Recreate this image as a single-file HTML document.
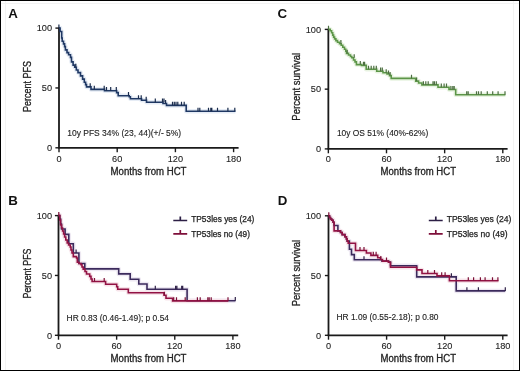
<!DOCTYPE html>
<html><head><meta charset="utf-8"><style>
html,body{margin:0;padding:0;background:#fff;}
body{width:520px;height:371px;overflow:hidden;}
svg{display:block;font-family:"Liberation Sans", sans-serif;will-change:transform;}
</style></head><body>
<svg width="520" height="371" viewBox="0 0 520 371">
<rect x="0" y="0" width="520" height="371" fill="#fff"/>
<path d="M1,3.5H519M5.5,1V370M513.5,1V370" stroke="#f3f3f3" stroke-width="1" fill="none"/>
<rect x="0.5" y="0.5" width="519" height="370" fill="none" stroke="#000" stroke-width="1"/>
<path d="M59.0,28.1H60.1V31.5H61.7V38H62.2V41.2H63.5V43.9H64.6V46.6H65.4V49.9H67V52.6H68.6V54.7H70.5V57.4H71.5V61.9H73.1V65.1H74.7V67.3H76.3V70H78V72.6H80.5V75.9H82.6V79.1H84.3V82.3H85.6V84.6H86.5V86.9H91.0V89.4H104.5V90.7H116.6V92.6H118.2V95.7H129.2V96.8H130.4V98.8H141.5V100.3H146.5V102.2H163V103.5H166.5V105.4H186.2V111.3H235.5" stroke="#e6ecf5" stroke-width="4.5" fill="none" stroke-linejoin="round"/>
<path d="M328.35,29.4H330.2V30.8H331.6V32.8H332.7V35.1H333.6V37.1H334.6V38.9H335.9V40.6H337.5V42.2H339.5V43.7H341.2V45.3H342.8V47.3H344.5V49.3H345.8V51.3H346.5V53.4H348.5V55H350.5V56.5H351.8V57.8H353.5V60H355V61.9H356.4V64.6H361.5V65.4H366.2V69.3H376.7V71.2H383V72.8H387V74H389.5V75.6H391.2V78.4H415.7V81.1H418.6V83H421.9V84.9H438V87.2H449V89.5H455.7V94.8H505.4" stroke="#e8f3e1" stroke-width="4.5" fill="none" stroke-linejoin="round"/>
<path d="M58.4,215.6H59.8V219H60.6V224H61.5V229H65.1V234.4H68.8V243.7H73.3V253H78.9V263.5H84.8V268.9H118.7V273.9H130.2V279.2H138.8V284H147V289.3H187.1V300.7H235.5" stroke="#ede8f2" stroke-width="4.5" fill="none" stroke-linejoin="round"/>
<path d="M58.4,215.6H59.8V220H60.6V225H61.6V228H62.6V231H63.6V234H64.6V237H65.8V240H67.2V243H68.6V245H70.2V247H71V250H72V253H73.3V256.6H76.5V258H77.3V262.3H79V263.5H81V264.7H82V267H83.2V269.1H85V271.5H86.5V274H89.7V276.4H91V279H92.1V281.5H105.6V284.2H116.7V286.7H117.7V289.2H128.3V292.7H164V295.3H166V298.2H172.6V300.9H228.3" stroke="#f7e4ea" stroke-width="4.5" fill="none" stroke-linejoin="round"/>
<path d="M328.5,215.8H329.5V217.5H330.5V219H331.7V220.3H333.1V222.2H334.1V225.5H337.9V230.9H340.5V232.5H342.2V234.6H344.9V236.8H346.4V239H347.2V241.1H349.4V243.3H349.4V249.3H351.5V254.6H354.3V259.8H382V261.1H388.5V262H390.5V265.8H416.7V276.9H456.2V290.9H505.3" stroke="#ede8f2" stroke-width="4.5" fill="none" stroke-linejoin="round"/>
<path d="M328.5,215.8H329.5V217.5H330.5V219H331.7V220.3H333.1V222.2H334.1V230.9H340.5V232.5H342.2V234.6H344.9V236.8H346.4V239H347.2V241.1H348.2V243.3H355.5V250.5H366.4V253H370.9V255.4H377.7V257.8H380.5V259.5H382.5V261.1H388.5V262.3H390.5V267.2H416.7V269.9H422V273.5H437V275.9H449.4V280.8H498.5" stroke="#f7e4ea" stroke-width="4.5" fill="none" stroke-linejoin="round"/>
<text x="8.2" y="17.8" font-size="13.3" text-anchor="start" fill="#111" font-weight="bold">A</text>
<text x="8.3" y="205" font-size="13.3" text-anchor="start" fill="#111" font-weight="bold">B</text>
<text x="277.6" y="18.4" font-size="13.3" text-anchor="start" fill="#111" font-weight="bold">C</text>
<text x="277.8" y="205" font-size="13.3" text-anchor="start" fill="#111" font-weight="bold">D</text>
<path d="M59.0,27.6V147.8" stroke="#1a1a1a" stroke-width="1.8" fill="none"/>
<path d="M58.25,147.8H238.6" stroke="#1a1a1a" stroke-width="1.8" fill="none"/>
<path d="M55.4,28.1H59.0" stroke="#1a1a1a" stroke-width="1.4" fill="none"/>
<path d="M55.4,87.95H59.0" stroke="#1a1a1a" stroke-width="1.4" fill="none"/>
<path d="M55.4,147.8H59.0" stroke="#1a1a1a" stroke-width="1.4" fill="none"/>
<path d="M59.0,147.8V152.20000000000002" stroke="#1a1a1a" stroke-width="1.4" fill="none"/>
<path d="M117.19999999999999,147.8V152.20000000000002" stroke="#1a1a1a" stroke-width="1.4" fill="none"/>
<path d="M175.39999999999998,147.8V152.20000000000002" stroke="#1a1a1a" stroke-width="1.4" fill="none"/>
<path d="M233.6,147.8V152.20000000000002" stroke="#1a1a1a" stroke-width="1.4" fill="none"/>
<text x="52.1" y="31.4" font-size="9.2" text-anchor="end" fill="#222" stroke="#222" stroke-width="0.1">100</text>
<text x="52.1" y="91.25" font-size="9.2" text-anchor="end" fill="#222" stroke="#222" stroke-width="0.1">50</text>
<text x="52.1" y="151.1" font-size="9.2" text-anchor="end" fill="#222" stroke="#222" stroke-width="0.1">0</text>
<text x="59.0" y="162.2" font-size="9.2" text-anchor="middle" fill="#222" stroke="#222" stroke-width="0.1">0</text>
<text x="117.2" y="162.2" font-size="9.2" text-anchor="middle" fill="#222" stroke="#222" stroke-width="0.1">60</text>
<text x="175.4" y="162.2" font-size="9.2" text-anchor="middle" fill="#222" stroke="#222" stroke-width="0.1">120</text>
<text x="233.6" y="162.2" font-size="9.2" text-anchor="middle" fill="#222" stroke="#222" stroke-width="0.1">180</text>
<text x="110.6" y="175" font-size="10" text-anchor="start" fill="#222" stroke="#222" stroke-width="0.3" textLength="75.9" lengthAdjust="spacingAndGlyphs">Months from HCT</text>
<text x="31" y="86.5" font-size="10" text-anchor="middle" fill="#222" stroke="#222" stroke-width="0.3" textLength="51" lengthAdjust="spacingAndGlyphs" transform="rotate(-90 31 86.5)">Percent PFS</text>
<path d="M58.5,215.1V335.3" stroke="#1a1a1a" stroke-width="1.8" fill="none"/>
<path d="M57.75,335.3H238.2" stroke="#1a1a1a" stroke-width="1.8" fill="none"/>
<path d="M54.9,215.6H58.5" stroke="#1a1a1a" stroke-width="1.4" fill="none"/>
<path d="M54.9,275.45H58.5" stroke="#1a1a1a" stroke-width="1.4" fill="none"/>
<path d="M54.9,335.3H58.5" stroke="#1a1a1a" stroke-width="1.4" fill="none"/>
<path d="M58.5,335.3V339.7" stroke="#1a1a1a" stroke-width="1.4" fill="none"/>
<path d="M116.63333333333333,335.3V339.7" stroke="#1a1a1a" stroke-width="1.4" fill="none"/>
<path d="M174.76666666666665,335.3V339.7" stroke="#1a1a1a" stroke-width="1.4" fill="none"/>
<path d="M232.9,335.3V339.7" stroke="#1a1a1a" stroke-width="1.4" fill="none"/>
<text x="52.0" y="218.9" font-size="9.2" text-anchor="end" fill="#222" stroke="#222" stroke-width="0.1">100</text>
<text x="52.0" y="278.75" font-size="9.2" text-anchor="end" fill="#222" stroke="#222" stroke-width="0.1">50</text>
<text x="52.0" y="338.6" font-size="9.2" text-anchor="end" fill="#222" stroke="#222" stroke-width="0.1">0</text>
<text x="58.5" y="348.8" font-size="9.2" text-anchor="middle" fill="#222" stroke="#222" stroke-width="0.1">0</text>
<text x="116.63" y="348.8" font-size="9.2" text-anchor="middle" fill="#222" stroke="#222" stroke-width="0.1">60</text>
<text x="174.77" y="348.8" font-size="9.2" text-anchor="middle" fill="#222" stroke="#222" stroke-width="0.1">120</text>
<text x="232.9" y="348.8" font-size="9.2" text-anchor="middle" fill="#222" stroke="#222" stroke-width="0.1">180</text>
<text x="110.6" y="361.9" font-size="10" text-anchor="start" fill="#222" stroke="#222" stroke-width="0.3" textLength="75.9" lengthAdjust="spacingAndGlyphs">Months from HCT</text>
<text x="31" y="273.5" font-size="10" text-anchor="middle" fill="#222" stroke="#222" stroke-width="0.3" textLength="50" lengthAdjust="spacingAndGlyphs" transform="rotate(-90 31 273.5)">Percent PFS</text>
<path d="M328.35,28.9V148.9" stroke="#1a1a1a" stroke-width="1.8" fill="none"/>
<path d="M327.6,148.9H507.6" stroke="#1a1a1a" stroke-width="1.8" fill="none"/>
<path d="M324.75,29.4H328.35" stroke="#1a1a1a" stroke-width="1.4" fill="none"/>
<path d="M324.75,89.15H328.35" stroke="#1a1a1a" stroke-width="1.4" fill="none"/>
<path d="M324.75,148.9H328.35" stroke="#1a1a1a" stroke-width="1.4" fill="none"/>
<path d="M328.35,148.9V153.3" stroke="#1a1a1a" stroke-width="1.4" fill="none"/>
<path d="M386.5,148.9V153.3" stroke="#1a1a1a" stroke-width="1.4" fill="none"/>
<path d="M444.65000000000003,148.9V153.3" stroke="#1a1a1a" stroke-width="1.4" fill="none"/>
<path d="M502.79999999999995,148.9V153.3" stroke="#1a1a1a" stroke-width="1.4" fill="none"/>
<text x="321.0" y="32.7" font-size="9.2" text-anchor="end" fill="#222" stroke="#222" stroke-width="0.1">100</text>
<text x="321.0" y="92.45" font-size="9.2" text-anchor="end" fill="#222" stroke="#222" stroke-width="0.1">50</text>
<text x="321.0" y="152.2" font-size="9.2" text-anchor="end" fill="#222" stroke="#222" stroke-width="0.1">0</text>
<text x="328.35" y="162.4" font-size="9.2" text-anchor="middle" fill="#222" stroke="#222" stroke-width="0.1">0</text>
<text x="386.5" y="162.4" font-size="9.2" text-anchor="middle" fill="#222" stroke="#222" stroke-width="0.1">60</text>
<text x="444.65" y="162.4" font-size="9.2" text-anchor="middle" fill="#222" stroke="#222" stroke-width="0.1">120</text>
<text x="502.8" y="162.4" font-size="9.2" text-anchor="middle" fill="#222" stroke="#222" stroke-width="0.1">180</text>
<text x="380.6" y="175" font-size="10" text-anchor="start" fill="#222" stroke="#222" stroke-width="0.3" textLength="75.4" lengthAdjust="spacingAndGlyphs">Months from HCT</text>
<text x="300.2" y="86.8" font-size="10" text-anchor="middle" fill="#222" stroke="#222" stroke-width="0.3" textLength="67.8" lengthAdjust="spacingAndGlyphs" transform="rotate(-90 300.2 86.8)">Percent survival</text>
<path d="M328.5,215.3V335.3" stroke="#1a1a1a" stroke-width="1.8" fill="none"/>
<path d="M327.75,335.3H507.6" stroke="#1a1a1a" stroke-width="1.8" fill="none"/>
<path d="M324.9,215.8H328.5" stroke="#1a1a1a" stroke-width="1.4" fill="none"/>
<path d="M324.9,275.55H328.5" stroke="#1a1a1a" stroke-width="1.4" fill="none"/>
<path d="M324.9,335.3H328.5" stroke="#1a1a1a" stroke-width="1.4" fill="none"/>
<path d="M328.5,335.3V339.7" stroke="#1a1a1a" stroke-width="1.4" fill="none"/>
<path d="M386.6,335.3V339.7" stroke="#1a1a1a" stroke-width="1.4" fill="none"/>
<path d="M444.7,335.3V339.7" stroke="#1a1a1a" stroke-width="1.4" fill="none"/>
<path d="M502.80000000000007,335.3V339.7" stroke="#1a1a1a" stroke-width="1.4" fill="none"/>
<text x="321.0" y="219.1" font-size="9.2" text-anchor="end" fill="#222" stroke="#222" stroke-width="0.1">100</text>
<text x="321.0" y="278.85" font-size="9.2" text-anchor="end" fill="#222" stroke="#222" stroke-width="0.1">50</text>
<text x="321.0" y="338.6" font-size="9.2" text-anchor="end" fill="#222" stroke="#222" stroke-width="0.1">0</text>
<text x="328.5" y="348.6" font-size="9.2" text-anchor="middle" fill="#222" stroke="#222" stroke-width="0.1">0</text>
<text x="386.6" y="348.6" font-size="9.2" text-anchor="middle" fill="#222" stroke="#222" stroke-width="0.1">60</text>
<text x="444.7" y="348.6" font-size="9.2" text-anchor="middle" fill="#222" stroke="#222" stroke-width="0.1">120</text>
<text x="502.8" y="348.6" font-size="9.2" text-anchor="middle" fill="#222" stroke="#222" stroke-width="0.1">180</text>
<text x="380.6" y="361.9" font-size="10" text-anchor="start" fill="#222" stroke="#222" stroke-width="0.3" textLength="75.4" lengthAdjust="spacingAndGlyphs">Months from HCT</text>
<text x="300.4" y="273.1" font-size="10" text-anchor="middle" fill="#222" stroke="#222" stroke-width="0.3" textLength="66.4" lengthAdjust="spacingAndGlyphs" transform="rotate(-90 300.4 273.1)">Percent survival</text>
<text x="67.2" y="135.6" font-size="8.5" text-anchor="start" fill="#222" stroke="#222" stroke-width="0.12" textLength="114" lengthAdjust="spacingAndGlyphs">10y PFS 34% (23, 44)(+/- 5%)</text>
<text x="66.6" y="320.5" font-size="8.5" text-anchor="start" fill="#222" stroke="#222" stroke-width="0.12" textLength="102.4" lengthAdjust="spacingAndGlyphs">HR 0.83 (0.46-1.49); p 0.54</text>
<text x="336.9" y="135.9" font-size="8.5" text-anchor="start" fill="#222" stroke="#222" stroke-width="0.12" textLength="91.5" lengthAdjust="spacingAndGlyphs">10y OS 51% (40%-62%)</text>
<text x="336.5" y="320.4" font-size="8.5" text-anchor="start" fill="#222" stroke="#222" stroke-width="0.12" textLength="102" lengthAdjust="spacingAndGlyphs">HR 1.09 (0.55-2.18); p 0.80</text>
<path d="M173.3,220.5H187.20000000000002M180.3,220.5V216.6" stroke="#2c1f45" stroke-width="1.7" fill="none"/>
<path d="M173.3,233.8H187.20000000000002M180.3,233.8V229.9" stroke="#7e0f3a" stroke-width="1.7" fill="none"/>
<text x="191.2" y="222.4" font-size="8.4" text-anchor="start" fill="#222" stroke="#222" stroke-width="0.25" textLength="63.2" lengthAdjust="spacingAndGlyphs">TP53les yes (24)</text>
<text x="191.2" y="236.6" font-size="8.4" text-anchor="start" fill="#222" stroke="#222" stroke-width="0.25" textLength="58.7" lengthAdjust="spacingAndGlyphs">TP53les no (49)</text>
<path d="M428.8,220.5H442.7M435.8,220.5V216.6" stroke="#2c1f45" stroke-width="1.7" fill="none"/>
<path d="M428.8,233.8H442.7M435.8,233.8V229.9" stroke="#7e0f3a" stroke-width="1.7" fill="none"/>
<text x="446.7" y="222.4" font-size="8.6" text-anchor="start" fill="#222" stroke="#222" stroke-width="0.25" textLength="64.7" lengthAdjust="spacingAndGlyphs">TP53les yes (24)</text>
<text x="446.7" y="236.6" font-size="8.6" text-anchor="start" fill="#222" stroke="#222" stroke-width="0.25" textLength="61" lengthAdjust="spacingAndGlyphs">TP53les no (49)</text>
<path d="M59.0,28.1H60.1V31.5H61.7V38H62.2V41.2H63.5V43.9H64.6V46.6H65.4V49.9H67V52.6H68.6V54.7H70.5V57.4H71.5V61.9H73.1V65.1H74.7V67.3H76.3V70H78V72.6H80.5V75.9H82.6V79.1H84.3V82.3H85.6V84.6H86.5V86.9H91.0V89.4H104.5V90.7H116.6V92.6H118.2V95.7H129.2V96.8H130.4V98.8H141.5V100.3H146.5V102.2H163V103.5H166.5V105.4H186.2V111.3H235.5" stroke="#1f3864" stroke-width="1.6" fill="none"/>
<path d="M58.9,28.1V24.5M75.8,67.3V63.7M90.2,86.9V83.3M94.3,89.4V85.8M104.2,89.4V85.8M106.5,90.7V87.1M110.7,90.7V87.1M116.3,90.7V87.1M128.5,95.7V92.1M138.5,98.8V95.2M141.2,98.8V95.2M146.2,100.3V96.7M155.3,102.2V98.6M162.5,102.2V98.6M164,102.2V98.6M165.6,103.5V99.9M172.5,105.4V101.8M174.3,105.4V101.8M176,105.4V101.8M177.8,105.4V101.8M181.5,105.4V101.8M184.2,105.4V101.8M198,111.3V107.7M199.8,111.3V107.7M208.5,111.3V107.7M210.8,111.3V107.7M211.8,111.3V107.7M217.5,111.3V107.7M227.9,111.3V107.7M234.8,111.3V107.7" stroke="#1b2c4c" stroke-width="1.2" fill="none"/>
<path d="M328.35,29.4H330.2V30.8H331.6V32.8H332.7V35.1H333.6V37.1H334.6V38.9H335.9V40.6H337.5V42.2H339.5V43.7H341.2V45.3H342.8V47.3H344.5V49.3H345.8V51.3H346.5V53.4H348.5V55H350.5V56.5H351.8V57.8H353.5V60H355V61.9H356.4V64.6H361.5V65.4H366.2V69.3H376.7V71.2H383V72.8H387V74H389.5V75.6H391.2V78.4H415.7V81.1H418.6V83H421.9V84.9H438V87.2H449V89.5H455.7V94.8H505.4" stroke="#5c9648" stroke-width="1.6" fill="none"/>
<path d="M328.5,29.4V25.8M340.9,43.7V40.1M347.2,53.4V49.8M354.2,57.8V54.2M360.3,64.6V61.0M363.5,65.4V61.8M364.6,65.4V61.8M368.5,69.3V65.7M371.2,69.3V65.7M373.8,69.3V65.7M376.3,69.3V65.7M380.6,71.2V67.6M382.3,71.2V67.6M386.2,72.8V69.2M388.5,74V70.4M390.1,75.6V72.0M411.5,78.4V74.8M416.6,81.1V77.5M423.4,84.9V81.3M425.8,84.9V81.3M428.2,84.9V81.3M433,84.9V81.3M434.4,84.9V81.3M436.3,84.9V81.3M441.3,87.2V83.6M444.1,87.2V83.6M446.5,87.2V83.6M450.9,89.5V85.9M452.8,89.5V85.9M454.2,89.5V85.9M466.7,94.8V91.2M468.2,94.8V91.2M476.5,94.8V91.2M478.5,94.8V91.2M481.2,94.8V91.2M487.3,94.8V91.2M492.7,94.8V91.2M498.1,94.8V91.2M505,94.8V91.2" stroke="#4d6f42" stroke-width="1.2" fill="none"/>
<path d="M58.4,215.6H59.8V219H60.6V224H61.5V229H65.1V234.4H68.8V243.7H73.3V253H78.9V263.5H84.8V268.9H118.7V273.9H130.2V279.2H138.8V284H147V289.3H187.1V300.7H235.5" stroke="#3b2a5c" stroke-width="1.6" fill="none"/>
<path d="M76.1,253V249.4M155.3,289.3V285.7M175.6,289.3V285.7M176.9,289.3V285.7M181.7,289.3V285.7M182.7,289.3V285.7M235.3,300.7V297.1" stroke="#2f2248" stroke-width="1.2" fill="none"/>
<path d="M58.4,215.6H59.8V220H60.6V225H61.6V228H62.6V231H63.6V234H64.6V237H65.8V240H67.2V243H68.6V245H70.2V247H71V250H72V253H73.3V256.6H76.5V258H77.3V262.3H79V263.5H81V264.7H82V267H83.2V269.1H85V271.5H86.5V274H89.7V276.4H91V279H92.1V281.5H105.6V284.2H116.7V286.7H117.7V289.2H128.3V292.7H164V295.3H166V298.2H172.6V300.9H228.3" stroke="#921244" stroke-width="1.6" fill="none"/>
<path d="M58.8,215.6V212.0M94.5,281.5V277.9M104.2,281.5V277.9M164.4,295.3V291.7M173.7,300.9V297.3M176.5,300.9V297.3M185.2,300.9V297.3M197.4,300.9V297.3M200.2,300.9V297.3M207.8,300.9V297.3M209.2,300.9V297.3M211.2,300.9V297.3M228,300.9V297.3" stroke="#7c1038" stroke-width="1.2" fill="none"/>
<path d="M328.5,215.8H329.5V217.5H330.5V219H331.7V220.3H333.1V222.2H334.1V225.5H337.9V230.9H340.5V232.5H342.2V234.6H344.9V236.8H346.4V239H347.2V241.1H349.4V243.3H349.4V249.3H351.5V254.6H354.3V259.8H382V261.1H388.5V262H390.5V265.8H416.7V276.9H456.2V290.9H505.3" stroke="#3b2a5c" stroke-width="1.6" fill="none"/>
<path d="M364,259.8V256.2M451.4,276.9V273.3M466.9,290.9V287.3M478.4,290.9V287.3M505.3,290.9V287.3" stroke="#2f2248" stroke-width="1.2" fill="none"/>
<path d="M328.5,215.8H329.5V217.5H330.5V219H331.7V220.3H333.1V222.2H334.1V230.9H340.5V232.5H342.2V234.6H344.9V236.8H346.4V239H347.2V241.1H348.2V243.3H355.5V250.5H366.4V253H370.9V255.4H377.7V257.8H380.5V259.5H382.5V261.1H388.5V262.3H390.5V267.2H416.7V269.9H422V273.5H437V275.9H449.4V280.8H498.5" stroke="#921244" stroke-width="1.6" fill="none"/>
<path d="M328.8,215.8V212.2M360,250.5V246.9M364,250.5V246.9M373.3,255.4V251.8M376.1,255.4V251.8M380.8,259.5V255.9M386.5,261.1V257.5M427.8,273.5V269.9M434.5,273.5V269.9M441.7,275.9V272.3M445.1,275.9V272.3M468.3,280.8V277.2M473.6,280.8V277.2M480.4,280.8V277.2M485.1,280.8V277.2M492.5,280.8V277.2M497.9,280.8V277.2" stroke="#7c1038" stroke-width="1.2" fill="none"/>
</svg>
</body></html>
